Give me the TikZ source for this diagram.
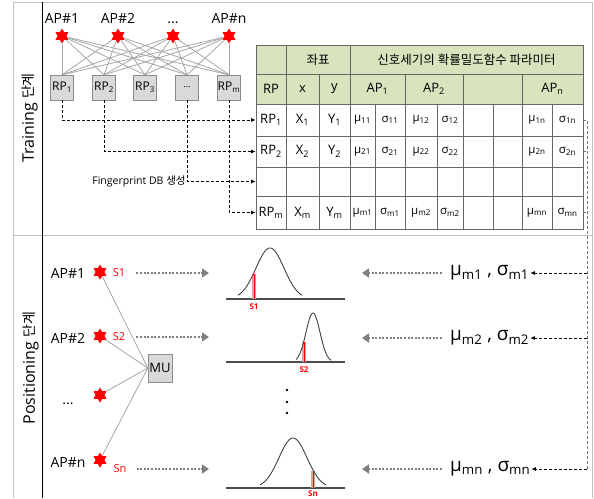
\documentclass[tikz,border=0pt]{standalone}
\usepackage{fontspec}
\setmainfont{Open Sans}
\newfontfamily\krfont{Noto Sans CJK KR}
\usetikzlibrary{arrows.meta, positioning, shapes.geometric, calc}

\definecolor{hdrgreen}{HTML}{D7E4BD}
\definecolor{boxgray}{HTML}{D9D9D9}
\definecolor{framegray}{HTML}{C0C0C0}
\definecolor{wiregray}{HTML}{A6A6A6}
\definecolor{apred}{HTML}{FF0000}
\definecolor{markfill}{HTML}{D9A0A0}

\newcommand{\fsz}[1]{\fontsize{#1}{#1}\selectfont}
\newcommand{\apdots}{...}
% table cell: [fill]{name}{x1}{x2}{y1}{y2}{text}
\newcommand{\tcell}[7][white]{%
  \node[cell, fill=#1, minimum width={#4-#3}, minimum height={#6-#5}]
    (#2) at ({(#3+#4)/2},{(#5+#6)/2}) {#7};}

\begin{document}
\begin{tikzpicture}[x=1pt, y=-1pt,
  ap/.style={star, star points=6, star point ratio=1.7, fill=apred, draw=none,
             minimum size=15pt, inner sep=0pt},
  rpbox/.style={rectangle, draw=black!45, fill=boxgray, minimum width=23pt,
                minimum height=25pt, inner sep=0pt, font=\fsz{12}},
  aplabel/.style={font=\fsz{14}, inner sep=0pt, anchor=base},
  slabel/.style={font=\fsz{11}, text=apred, inner sep=0pt},
  cell/.style={rectangle, draw=black!60, line width=0.8pt, inner sep=0pt, font=\fsz{13}},
  wire/.style={draw=wiregray, line width=0.8pt},
  dbarrow/.style={dash pattern=on 3pt off 2pt, line width=0.8pt, -{Latex[length=4.5pt, width=4pt]}},
  vline/.style={draw=black!55, dash pattern=on 3pt off 2pt, line width=0.9pt},
  sendarrow/.style={draw=black!50, line width=2.6pt, dash pattern=on 2pt off 1.6pt,
                    -{Triangle[length=7pt, width=9pt]}},
  gcurve/.style={draw=black!75, line width=0.9pt},
  gbase/.style={draw=black!70, line width=1.2pt},
  plabel/.style={anchor=west, font=\fsz{19}, inner sep=1pt}
]
  \useasboundingbox (0,0) rectangle (594,498);

  % frame
  \draw[framegray, line width=1pt] (13,498) -- (13,2) -- (592,2) -- (592,498);
  \draw[framegray, line width=1pt] (13,235) -- (592,235);
  \draw[black, line width=1pt] (42,2) -- (42,498);

  \node[rotate=90, font=\fsz{16}] (train) at (30,118) {Training {\krfont\fsz{14}단계}};
  \node[rotate=90, font=\fsz{16}] (posi) at (31,368) {Positioning {\krfont\fsz{14}단계}};

  % training: APs and RPs
  \foreach \i/\x/\txt in {1/62/AP\#1, 2/118/AP\#2, 3/173/\apdots, 4/229/AP\#n} {
    \node[aplabel] (tl\i) at (\x,23) {\txt};
    \node[ap] (t\i) at (\x,36) {};
  }
  \foreach \i/\x/\txt in {1/62/RP\textsubscript{1}, 2/104/RP\textsubscript{2}, 3/145/RP\textsubscript{3},
                          4/187/{\fsz{9}\apdots}, 5/229/RP\textsubscript{m}}
    \node[rpbox] (rp\i) at (\x,87.5) {\txt};
  \foreach \a in {1,2,3,4}
    \foreach \p in {1,2,3,4,5}
      \draw[wire] (t\a) -- (rp\p.north);

  % table header
  \tcell[hdrgreen]{h1-1}{256}{286}{45}{74}{}
  \tcell[hdrgreen]{h1-2}{286}{350}{45}{74}{\krfont\fsz{12.5}좌표}
  \tcell[hdrgreen]{h1-3}{350}{583}{45}{74}{\krfont\fsz{12.5}신호세기의 확률밀도함수 파라미터}
  \foreach \xa/\xb/\txt [count=\c] in {256/286/RP, 286/319/x, 319/350/y,
      350/405/AP\textsubscript{1}, 405/463/AP\textsubscript{2}, 463/522/{}, 522/583/AP\textsubscript{n}} {
    \tcell[hdrgreen]{h2-\c}{\xa}{\xb}{74}{104}{\txt}
  }

  % table rows
  \foreach \rw/\ya/\yb in {1/104/136, 2/136/167, m/196/229} {
    \tcell{r\rw-1}{256}{286}{\ya}{\yb}{RP\textsubscript{\rw}}
    \tcell{r\rw-2}{286}{319}{\ya}{\yb}{X\textsubscript{\rw}}
    \tcell{r\rw-3}{319}{350}{\ya}{\yb}{Y\textsubscript{\rw}}
    \foreach \xa/\xb/\txt [count=\c from 4] in {350/375/{μ\textsubscript{\rw1}}, 375/405/{σ\textsubscript{\rw1}},
        405/437/{μ\textsubscript{\rw2}}, 437/463/{σ\textsubscript{\rw2}}, 463/493/{}, 493/522/{},
        522/552/{μ\textsubscript{\rw n}}, 552/583/{σ\textsubscript{\rw n}}} {
      \tcell{r\rw-\c}{\xa}{\xb}{\ya}{\yb}{\fsz{11.5}\txt}
    }
  }
  \foreach \xa/\xb [count=\c] in {256/286, 286/319, 319/350, 350/375, 375/405, 405/437,
                                  437/463, 463/493, 493/522, 522/552, 552/583} {
    \tcell{r3-\c}{\xa}{\xb}{167}{196}{}
  }

  % fingerprint DB arrows
  \draw[dbarrow] (rp1.south) |- (r1-1.west);
  \draw[dbarrow] (rp2.south) |- (r2-1.west);
  \draw[dbarrow] (rp4.south) |- (r3-1.west)
    node[pos=0.5, anchor=east, font=\fsz{10.5}, inner sep=1pt] (fpdb) {Fingerprint DB {\krfont 생성}};
  \draw[dbarrow] (rp5.south) |- (rm-1.west);

  % positioning: APs and MU
  \node[aplabel] (bl1) at (68,278) {AP\#1};
  \node[aplabel] (bl2) at (68,343) {AP\#2};
  \node[aplabel] (bl3) at (68,404) {\apdots};
  \node[aplabel] (bl4) at (68,467) {AP\#n};
  \node[ap] (b1) at (100,272) {};
  \node[ap] (b2) at (100,336) {};
  \node[ap] (b3) at (100,395) {};
  \node[ap] (b4) at (100,460) {};
  \node[slabel] (s1) at (119,273) {S1};
  \node[slabel] (s2) at (119,337) {S2};
  \node[slabel] (sn) at (120,469) {Sn};
  \node[rpbox, minimum width=24pt, minimum height=28pt, font=\fsz{13}] (mu) at (160,368) {MU};
  \foreach \i in {1,2,3,4}
    \draw[wire] (b\i) -- (mu.west);

  % received signal on the pdf
  \coordinate (g1in) at (209,273);
  \coordinate (g1out) at (362,273);
  \draw[gbase] (226,299) -- (345,299);
  \fill[markfill] (252,299) rectangle (256,274);
  \draw[apred, line width=1pt] (254,299) -- (254,274);
  \draw[gcurve] plot[domain=238:302, samples=60, smooth] (\x,{299-51*exp(-((\x-270)^2)/392)});
  \node[font=\bfseries\fsz{8}, text=apred, inner sep=0pt] (s1m) at (254,307) {S1};

  \draw[gbase] (226,362) -- (345,362);
  \fill[markfill] (302,362) rectangle (306,342);
  \draw[apred, line width=1pt] (304,362) -- (304,342);
  \draw[gcurve] plot[domain=296:331, samples=60, smooth] (\x,{362-49*exp(-((\x-313)^2)/98)});
  \node[font=\bfseries\fsz{8}, text=apred, inner sep=0pt] (s2m) at (304,370) {S2};

  \foreach \y in {390,402,413}
    \fill (287,\y) circle (1.3pt);

  \draw[gbase] (226,488) -- (345,488);
  \fill[markfill] (311,488) rectangle (315,471);
  \draw[apred, line width=1pt] (313,488) -- (313,471);
  \draw[gcurve] plot[domain=260:326, samples=60, smooth] (\x,{488-50*exp(-((\x-293)^2)/392)});
  \node[font=\bfseries\fsz{8}, text=apred, inner sep=0pt] (snm) at (313,494) {Sn};

  % pdf parameters from the DB
  \node[plabel] (pm1) at (449,273) {μ\textsubscript{m1} , σ\textsubscript{m1}};
  \node[plabel] (pm2) at (449,338) {μ\textsubscript{m2} , σ\textsubscript{m2}};
  \node[plabel] (pmn) at (449,469) {μ\textsubscript{mn} , σ\textsubscript{mn}};

  \draw[sendarrow, shorten <=11pt] (s1.east) -- (s1.east -| g1in);
  \draw[sendarrow, shorten <=11pt] (s2.east) -- (s2.east -| g1in);
  \draw[sendarrow, shorten <=10pt] (sn.east) -- (sn.east -| g1in);
  \draw[sendarrow, shorten <=7pt] (pm1.west) -- (pm1.west -| g1out);
  \draw[sendarrow, shorten <=7pt] (pm2.west) -- (pm2.west -| g1out);
  \draw[sendarrow, shorten <=7pt] (pmn.west) -- (pmn.west -| g1out);

  \coordinate (vb) at (587,469);
  \draw[vline] (r1-11.east) -| (vb);
  \draw[vline] (r2-11.east) -- (r2-11.east -| vb);
  \draw[vline] (rm-11.east) -- (rm-11.east -| vb);
  \draw[dbarrow] (vb |- pm1.east) -- (pm1.east);
  \draw[dbarrow] (vb |- pm2.east) -- (pm2.east);
  \draw[dbarrow] (vb) -- (vb -| pmn.east);
\end{tikzpicture}
\end{document}
